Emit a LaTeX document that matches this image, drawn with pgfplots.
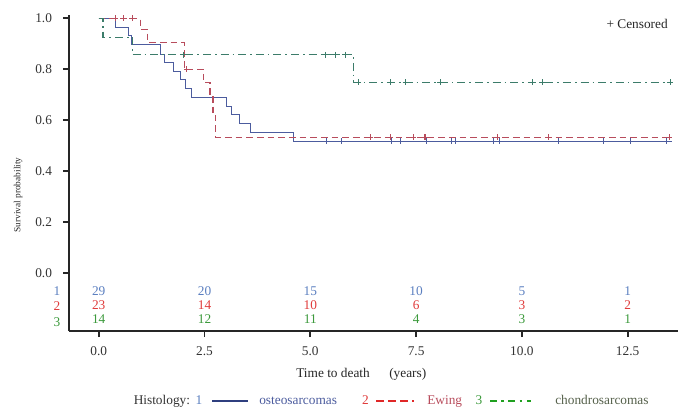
\documentclass[border=0pt]{standalone}
\usepackage{fontspec}
\setmainfont{Liberation Serif}
\usepackage{pgfplots}
\pgfplotsset{compat=1.18}
\definecolor{osteo}{HTML}{4C5C9E}
\definecolor{ewing}{HTML}{B84C5C}
\definecolor{chondro}{HTML}{3C7C6A}
\definecolor{rowblue}{HTML}{5B7FC0}
\definecolor{rowred}{HTML}{E03C3C}
\definecolor{rowgreen}{HTML}{3C9A3C}
\definecolor{legnavy}{HTML}{2F3F7F}
\definecolor{legred}{HTML}{E02828}
\definecolor{leggreen}{HTML}{20A020}
\definecolor{olive}{HTML}{55604A}

\begin{document}
\begin{tikzpicture}[risk/.style={font=\fontsize{10}{12}\selectfont}]
\path[use as bounding box] (-52pt,-57.75pt) rectangle (456.5pt,248.25pt);
\begin{axis}[
  at={(0,0)}, anchor=south west, scale only axis,
  width=456.5pt, height=237pt,
  xmin=-0.695, xmax=13.69, ymin=-0.226, ymax=1.013,
  axis x line*=bottom, axis y line*=left,
  axis line style={line width=1.3pt, black!85},
  tick style={line width=1.3pt, black!85},
  tick align=outside, major tick length=4.5pt,
  xtick={0,2.5,5,7.5,10,12.5}, xticklabels={0.0,2.5,5.0,7.5,10.0,12.5},
  ytick={0,0.2,0.4,0.6,0.8,1}, yticklabels={0.0,0.2,0.4,0.6,0.8,1.0},
  tick label style={font=\fontsize{10}{12}\selectfont, text=black!80},
  xticklabel style={yshift=-4pt},
  yticklabel style={xshift=-5pt},
  clip=false,
]
% survival curves
\addplot[const plot, osteo, line width=0.7pt] coordinates {
  (0,1) (0.40,0.966) (0.71,0.933) (0.78,0.898) (1.45,0.860) (1.55,0.828)
  (1.76,0.793) (1.92,0.759) (2.04,0.724) (2.20,0.690) (3.03,0.656)
  (3.14,0.624) (3.32,0.588) (3.58,0.552) (4.60,0.518) (13.55,0.518)};
\addplot[const plot, ewing, line width=0.8pt, dash pattern=on 5pt off 3pt] coordinates {
  (0,1) (0.98,0.957) (1.15,0.905) (2.02,0.800) (2.47,0.748) (2.63,0.700)
  (2.70,0.620) (2.77,0.533) (13.55,0.533)};
\addplot[const plot, chondro, line width=0.8pt, dash pattern=on 6pt off 3pt on 1.2pt off 3pt] coordinates {
  (0,1) (0.10,0.926) (0.80,0.857) (6.02,0.750) (13.55,0.750)};
% censored
\addplot[only marks, mark=+, mark size=2.2pt, osteo, mark options={line width=0.7pt}] coordinates {
  (5.39,0.518) (5.74,0.518) (6.92,0.518) (7.12,0.518) (7.74,0.518) (8.33,0.518)
  (8.42,0.518) (9.33,0.518) (9.46,0.518) (10.86,0.518) (11.92,0.518) (12.56,0.518)
  (13.42,0.518)};
\addplot[only marks, mark=+, mark size=2.2pt, ewing, mark options={line width=0.8pt}] coordinates {
  (0.39,1) (0.58,1) (0.79,1) (2.08,0.800) (6.42,0.533) (6.89,0.533) (7.43,0.533)
  (7.71,0.533) (9.42,0.533) (10.62,0.533) (13.48,0.533)};
\addplot[only marks, mark=+, mark size=2.2pt, chondro, mark options={line width=0.7pt}] coordinates {
  (2.00,0.857) (5.35,0.857) (5.59,0.857) (5.83,0.857) (6.13,0.750) (6.89,0.750)
  (7.25,0.750) (8.07,0.750) (10.24,0.750) (10.48,0.750) (13.50,0.750)};
% number at risk
\node[risk, rowblue] at (axis cs:0,-0.068) {29};
\node[risk, rowblue] at (axis cs:2.5,-0.068) {20};
\node[risk, rowblue] at (axis cs:5,-0.068) {15};
\node[risk, rowblue] at (axis cs:7.5,-0.068) {10};
\node[risk, rowblue] at (axis cs:10,-0.068) {5};
\node[risk, rowblue] at (axis cs:12.5,-0.068) {1};
\node[risk, rowred] at (axis cs:0,-0.124) {23};
\node[risk, rowred] at (axis cs:2.5,-0.124) {14};
\node[risk, rowred] at (axis cs:5,-0.124) {10};
\node[risk, rowred] at (axis cs:7.5,-0.124) {6};
\node[risk, rowred] at (axis cs:10,-0.124) {3};
\node[risk, rowred] at (axis cs:12.5,-0.124) {2};
\node[risk, rowgreen] at (axis cs:0,-0.180) {14};
\node[risk, rowgreen] at (axis cs:2.5,-0.180) {12};
\node[risk, rowgreen] at (axis cs:5,-0.180) {11};
\node[risk, rowgreen] at (axis cs:7.5,-0.180) {4};
\node[risk, rowgreen] at (axis cs:10,-0.180) {3};
\node[risk, rowgreen] at (axis cs:12.5,-0.180) {1};
\end{axis}
% labels and legend, in pixel coordinates of the page
\begin{scope}[x=0.75pt, y=-0.75pt, shift={(-52pt,248.25pt)},
  every node/.style={inner sep=0pt, text height=7pt, text depth=2pt,
    font=\fontsize{10}{12}\selectfont}]
\node[rotate=90, text height=5pt, text depth=1.5pt, font=\fontsize{7}{8}\selectfont, black!85] at (18,195) {Survival probability};
\node[anchor=east, black!85] at (668,25) {+ Censored};
\node[rowblue] at (57,292) {1};
\node[rowred] at (57,307.5) {2};
\node[rowgreen] at (57,323) {3};
\node[anchor=west, black!85] at (296,374) {Time to death};
\node[anchor=west, black!85] at (389,374) {(years)};
\node[anchor=west, black!80] at (133.5,400.7) {Histology:};
\node[rowblue] at (199,400.7) {1};
\draw[legnavy, line width=1.8pt] (212,400.7) -- (248,400.7);
\node[anchor=west, osteo] at (259,400.7) {osteosarcomas};
\node[rowred] at (365.5,400.7) {2};
\draw[legred, line width=1.8pt, dash pattern=on 6pt off 3pt] (376,400.7) -- (414,400.7);
\node[anchor=west, ewing] at (427,400.7) {Ewing};
\node[rowgreen] at (479,400.7) {3};
\draw[leggreen, line width=1.8pt, dash pattern=on 5pt off 3.5pt on 1.8pt off 3.5pt] (490,400.7) -- (531,400.7);
\node[anchor=west, olive] at (555,400.7) {chondrosarcomas};
\end{scope}
\end{tikzpicture}
\end{document}
